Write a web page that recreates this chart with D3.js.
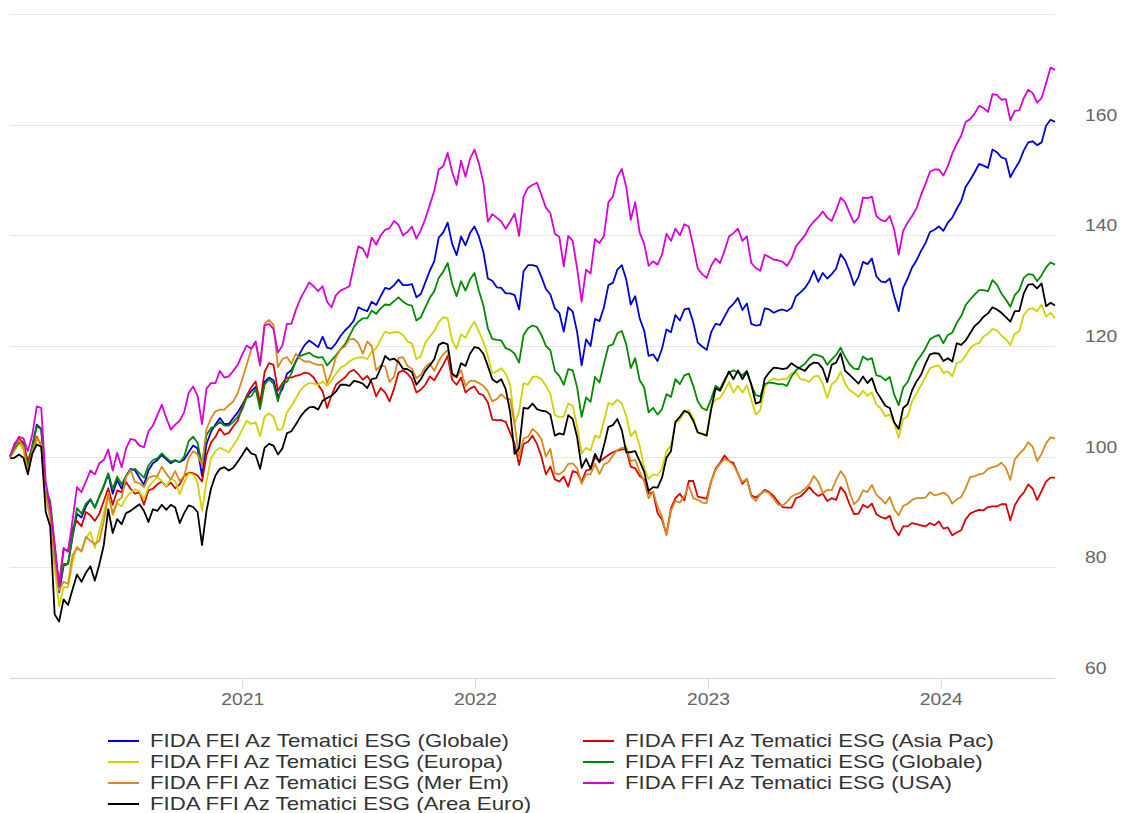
<!DOCTYPE html>
<html>
<head>
<meta charset="utf-8">
<script src="https://cdn.jsdelivr.net/npm/d3@7/dist/d3.min.js"></script>
<style>
  body { margin: 0; background: #fff; }
  svg { font-family: "Liberation Sans", Arial, sans-serif; }
</style>
</head>
<body>
<div id="chart"></div>
<script>
// weekly closes, first Friday of 2020 to end of June 2024
const firstWeek = '2020-01-03';
const weekCount = 235;

const seriesNames = [
  'FIDA FEI Az Tematici ESG (Globale)',
  'FIDA FFI Az Tematici ESG (Asia Pac)',
  'FIDA FFI Az Tematici ESG (Europa)',
  'FIDA FFI Az Tematici ESG (Globale)',
  'FIDA FFI Az Tematici ESG (Mer Em)',
  'FIDA FFI Az Tematici ESG (USA)',
  'FIDA FFI Az Tematici ESG (Area Euro)'
];
const seriesColors = ['#0000d8', '#d80000', '#d2d200', '#008a00', '#d88a1e', '#d800d8', '#000000'];

const yTicks = [60, 80, 100, 120, 140, 160];
const gridTicks = [80, 100, 120, 140, 160, 180];
const yearTicks = ['2021', '2022', '2023', '2024'];

const feiGlobale = [
  100,101.5,102.8,102.5,97.8,102,105.8,105,93.5,90.7,
  83,75.5,80.3,80.6,85.5,89.7,89,91,92.3,90.8,
  92.8,94.6,96.8,93.3,95.8,94.2,96.5,97.8,97.5,96.2,
  94.9,97.5,98.8,99.4,100.3,99.5,98.8,99.3,99,99.5,
  100.8,102,101.5,96.5,102.3,104.5,105.8,107,105.9,105.9,
  107,108,109.4,110.8,111.8,112.6,109.5,113.5,114.3,113.8,
  110.8,112.2,115,115.6,117.2,118.8,120.2,121,120.4,119.8,
  121.7,119.7,119.5,120.5,121.8,122.8,123.6,124.6,127,126.6,
  126.3,128,127.4,129,130.5,130.3,131,132,131,131,
  131.2,128.8,129.4,131.5,133.6,135.3,139.6,140.5,142.3,138.5,
  136.4,139.8,138.2,140.4,141.6,139.8,137,132.2,131.8,130.6,
  130.5,129.5,129.5,129.2,126.6,133.5,134.6,134.6,134.4,132.5,
  130.3,129.3,126.8,126,122.6,127,126.2,122.5,116.5,121.2,
  120,124.9,124.5,127,131,131.4,133.8,134.6,132,127.5,
  129,125,122.8,118.2,118.5,117.3,119.5,123,122.5,125.6,
  124.6,126.6,126.8,124.3,120.6,119.9,119.3,122.5,124,123.8,
  125.3,126.8,127.6,128.7,126.5,127.7,124,123.7,123.8,126.8,
  126.6,126,126.4,126.6,126.3,126.9,129,129.7,130.5,131.7,
  133.6,131.6,133.2,132.2,133,134,136.6,135.5,133.5,131,
  132.5,135.2,134.8,135.8,132.6,131.7,131.5,132.2,129,126.3,
  130.5,132.2,134.2,135.5,137.2,138.6,140.6,141,141.6,140.8,
  142.3,143.2,144.8,146.2,148.8,150,151.4,152.9,152.6,152.2,
  155.5,155,154.1,153.8,150.5,152,153.3,155.3,156.8,157,
  156.3,156.8,159.8,160.9,160.5
];

const ffiAsiaPac = [
  100,102.3,103.3,102.5,99.2,101.8,103.6,102,92.8,91,
  83,77,83.2,83,87.1,88.4,87.4,90,89.4,88.4,
  89.7,92,94.3,91.3,93.9,93.6,95.4,94.2,93.3,93.6,
  91.3,93.9,94.2,95,95.5,94.6,95.3,94.3,95,96.5,
  97.1,97,96.6,95.5,100.3,102.5,103.6,105.1,104,104.3,
  105.5,106.5,109,111,112.5,113.6,109.6,115.3,116.9,116.6,
  111.9,113.3,114.3,114.3,114.6,114.8,115.2,115,114.3,113,
  111.8,108.8,111.1,113,113.7,114.3,115.3,115.7,114.9,113.9,
  114.6,113.4,110.9,112.4,111.6,110,112.3,115.2,115.6,115,
  114,111.6,112.1,113,114.5,113.8,115.2,116.6,118.2,113.9,
  113,114.3,111.6,112.3,112.7,111.4,111.1,109.8,106.7,106.6,
  106.6,106.3,104.3,102.3,98.5,102.3,102.7,103.8,102.3,100,
  96.8,98.2,95.9,95.5,96.4,94.6,97.4,97.1,95.4,97.5,
  97.7,99.9,99.1,99.7,100.3,100.8,101.1,101.3,101.3,98.2,
  97.9,96.5,95.9,93.3,93.6,89.8,88.6,86,90.6,92.5,
  93.3,92.1,95.6,95.6,92.8,92.6,92.4,95.5,97.8,98.9,
  100.2,99.2,98.9,97,95.1,96,93,92.6,93.2,94,
  93.6,92.9,91.8,90.9,90.8,90.8,92.5,92.8,93.6,94.5,
  93.5,92.9,93.3,92,92.5,92.2,94.5,93.5,91.4,89.6,
  89.7,91.3,90.8,91.5,89.6,89.1,88.8,89.3,87,85.8,
  87.4,87.4,88,87.8,87.6,87.4,88,87.6,88.3,87,
  87.2,85.8,86.3,86.7,88.7,89.7,90.1,90.4,90.3,90.9,
  91,91,91.4,91.4,88.5,91.2,92.6,93.5,95,94.2,
  92.2,93.8,95.5,96.2,96.2
];

const ffiEuropa = [
  99.7,101,102.3,101.3,97.2,100.5,103,102.6,92.6,88.7,
  79.8,73,76.4,76.4,80.9,83.8,82.8,85.3,86.4,83.5,
  86.6,89.8,93.4,89.4,91.6,91,92.6,93.5,94.1,93.7,
  92.3,94.5,95.5,96.3,95.6,94.6,96,95.6,93.2,95.3,
  97,96.8,95.3,90.2,95.5,99.7,101,101.6,101.2,100.8,
  102,103.3,104.9,106.5,105.9,106.2,103.7,107.2,107.8,107.2,
  104.8,105,108,109.1,110.5,112,112.8,113.3,113.2,113,
  113.6,112.8,113.8,115,116.1,116.5,117.2,117.7,117.9,118,
  117.6,119,119.6,121.2,122.6,122.3,122.5,122.5,122,120.8,
  120.5,117.6,118.2,120.6,121.7,122.7,124.3,125.2,125,121,
  119.5,122.1,121.5,123.2,124.4,122.6,120.8,118.2,115.1,115.4,
  116,115,113,106,108.2,113.3,113,114.4,114.5,114,
  112.8,111.3,107.5,107.2,107.2,109.6,109.2,105.5,100.6,101.6,
  101.1,103.8,103.4,106.5,109.7,109.4,110.3,109.6,107.3,103.7,
  104.7,102,98,96,96.8,96.6,97.8,101,102,106,
  106.7,108,108.4,107,104.3,104.2,103.9,109.2,110.3,110.6,
  111.9,113.5,111.6,112.8,111.6,112.9,110.3,107.6,108.4,112.5,
  113.7,114.1,113.9,114,114.1,115.1,115.3,114,113.9,113.5,
  114.5,114.6,113.2,110.6,113.1,113.7,115.3,113.2,112,111.5,
  110.8,111.9,111,111.6,109.4,108.7,107.3,107.6,106,103.4,
  106.8,107.3,110,111.5,112.9,114.4,116,116.3,116.5,115.1,
  115.4,114.5,116.9,117.2,118.3,119.6,120.3,120.5,121.7,122.2,
  123.1,122.8,121.9,121.2,120.2,122.2,122.7,125.6,126.6,126.8,
  126.3,127.5,125.3,126,125
];

const ffiGlobale = [
  100,101.5,102.6,102.3,98,102,105.4,105,93.9,92,
  84.2,76.3,80.6,80.6,85.8,90.7,89.7,91.5,92.3,90.8,
  92.8,94.8,97,94.2,96.4,95,96.5,97.5,97.8,97,
  96.2,98.4,99.4,99.7,100.6,99.8,99.1,99.4,99,100,
  102.8,103.6,102.5,98.5,103.9,105.2,105.5,106.3,105.6,105.6,
  106.3,107.2,108.5,110.7,110.9,112.2,108.6,113,114,113.2,
  110,113.2,113.5,115,117.3,118.2,118.5,118.8,118.2,117.9,
  118,116.5,117.4,118.3,119.4,120.3,121.8,123.4,124.4,125,
  125,126.4,125.8,126.8,127.5,127.4,128.1,128.8,128,127.5,
  127.3,124.6,125.2,127,128.7,129.9,132.3,133.4,135,131.3,
  129,131.7,130,132,133.2,130,127.3,123.2,121.3,121.1,
  121,119.6,119.3,118.6,117,122,123.2,123.7,123.4,122,
  120,119.2,115.5,114.6,113,115.8,115.6,112.5,107.2,110.7,
  109.9,114.4,113.4,116.8,120,120.3,122.3,122.7,120.3,116,
  117.8,113.8,112.5,108,108.8,107.6,108.6,111.3,110.8,114,
  113.1,114.7,115,112.8,110,108.8,108.4,110.4,112.8,112.2,
  113.9,115.2,115.6,115.2,114.7,115.5,113,111.1,110.9,113.1,
  113.4,113.3,113.1,113.1,112.8,114.5,115.6,116.2,116.8,117.8,
  118.5,118.3,118,116.6,117.6,118.4,119.7,118,116.7,115.9,
  115.8,118.1,117.5,117.8,114.7,114.5,113.8,114.4,111.2,109.3,
  112.5,113.5,115.5,117.2,118.3,119.6,121.2,121.7,122,120.5,
  122,122.4,124.2,125.4,127.4,128.4,129.3,130.1,130.1,129.9,
  131.9,131.1,129.5,128.4,127.1,129.2,130.1,132.3,133,132.9,
  131.7,132.8,134.2,135.1,134.7
];

const ffiMerEm = [
  100,101.8,103,101.8,97.2,101,103.4,102.2,93.3,89,
  81,75.8,77.4,77,82.2,83.5,82.9,85.5,84.8,84.2,
  84.8,88.3,93.2,89.7,92,92.6,96.3,97.6,95.4,95.2,
  94.5,96.2,96.5,96.5,98.2,96.9,95.9,97.4,95.6,96.5,
  99.7,101,100.4,98.5,105,106.9,108.2,108.5,108.5,109.3,
  110,111.5,114,116.6,119.3,120.8,116.4,124,124.7,123.8,
  116.2,117.6,118,116.8,118.6,117.7,117.2,117.2,116.8,116.6,
  116.6,113.3,115.2,118,119.4,119.9,121.2,121.3,120.5,118.6,
  120.8,120,115.6,116.5,116.3,113.5,114.5,117.8,118,116.4,
  115.9,114.2,114.8,116.2,116.9,115.5,117.3,118.5,119.3,114.7,
  114.3,115.6,112.8,113.7,113.7,113.3,112.8,111.8,110,110.4,
  111.3,110.5,110.4,105.8,100,103.3,103.6,105,104.3,103.2,
  100,101.4,97,96.8,97.4,98.7,98.8,97.9,95.1,96.8,
  96.8,98.7,96.9,98.6,99,100.2,101.2,101.6,101.7,99.2,
  99.4,97.3,95.5,92.5,93.7,91,89.2,85.8,90.2,92,
  91.7,92.8,94.8,92.5,92.2,91.7,91.6,95.5,97.6,98.7,
  99.6,99.2,98.5,96.9,95.4,96,92.8,92,93.2,93.8,
  93.4,92.4,91.3,91.2,91.8,92.8,93.2,93.5,94.2,95,
  96.5,95.5,93.4,94,93.9,95.8,97.4,96.3,93.6,91.4,
  92.2,93.9,93.6,94.9,93.1,92.4,91.5,92.7,90.5,89.4,
  91.1,91.5,92.2,92.5,92.5,92.6,93.6,93,93.2,93.5,
  93,91.5,92.3,92.7,94.3,96.3,96.5,96.8,97,97.8,
  98.1,98.3,98.9,98,95.8,99.5,100.5,101.3,102.6,101.8,
  99.2,100.5,102.4,103.5,103.3
];

const ffiUsa = [
  100.1,102,103.6,103.3,101,104,109.1,108.8,95.5,91,
  84,76.5,83.5,82.8,88.5,94.5,93.6,95.5,97.5,96.8,
  98.8,99.4,101.3,97.5,100.7,98.1,101.5,103.2,103,102,
  101.7,104.6,105.6,107.5,109.4,107,104.9,105.8,106.5,108,
  111.5,112.7,111,105.9,112.3,113.3,113.3,115.5,114.3,114.5,
  115.5,116.6,118.5,120.1,119.5,120.8,116.6,123.7,124,123.1,
  118.8,120.1,124,124,126.5,128.5,130,131.5,130.8,129.9,
  130.8,128,127,129.2,130,130.4,130.8,134.5,138,137.6,
  136,139.6,138.3,140,141,141.3,142.6,141.9,140,140.6,
  141.6,139.4,140.9,143,145.5,148,151.9,152.5,154.9,151.5,
  149.1,153.5,150.6,153.8,155.5,153,149.5,142.5,143.8,143.2,
  142.5,141.2,142.5,143.9,139.9,147,148.6,149.1,149.5,147.3,
  145,144,140.3,139.7,134.4,139.9,139,134,128,133.8,
  133.1,139.3,138.6,139.9,146,147,150.5,152,148.7,142.8,
  146,140.5,138.5,134.5,135.3,134.7,136.5,140.3,139,141.2,
  140,142,141.6,138,134,133,132.3,134.5,135.8,135,
  137.2,139.8,140.4,141.2,139,139.8,135,134.1,133.6,136.5,
  136.1,135.6,135.5,135.2,134.5,135.8,138,139,140,141.5,
  142.5,143.3,144.3,143.2,142.6,144.5,146.8,146,144,142.3,
  143.2,146.8,146.7,147,143.5,142.8,142.5,143.5,141,136.5,
  140.8,142.3,143.5,144.9,147.3,149.3,151.5,151.9,151.9,150.8,
  152.5,154.8,156.5,158,160.5,161,162,163.4,163,162.3,
  165.5,165.4,164.5,164.6,160.8,162.5,162.6,164.8,166.3,165.7,
  164,164.8,167.5,170.3,169.9
];

const ffiAreaEuro = [
  99.7,99.8,100.4,99.8,96.8,100.6,102.2,101.8,90,87.4,
  71.5,70.2,74.2,73.2,76,78.7,77.4,79,80.2,77.6,
  80.5,84,90.5,86.2,88.7,87.8,89.8,90.2,90.8,91.4,
  90.2,88.2,90.5,90.2,91.3,90.4,91.3,90.8,88,89.8,
  91.2,90.9,90,84,90.2,94.2,96.6,97.8,98.1,97.5,
  98,99.1,100.3,101.6,100.6,100.3,97.8,101.6,102.3,102,
  100.4,101.5,104.2,104.6,105.8,107.2,108.2,108.9,109,108.5,
  110.1,110.6,111,111.8,113,113,112.8,113.7,113.5,113.2,
  112.4,114,114.2,116,118.2,117.5,117.7,117.1,115.9,115.8,
  115.3,113,114,115.5,116.5,117.6,120.2,120.6,120.3,115,
  114.4,116.9,116.4,118.6,119.8,119.6,118.6,116.4,114,113.4,
  114,112.2,108,100.5,101.5,108.8,108.7,109.6,108.6,108.3,
  108.2,107.6,103.8,104.2,104,107.5,106.8,103.5,98,99.6,
  97.8,100.5,99,102,105.4,105.7,106.8,104.8,100.8,100.8,
  101,99.2,97.3,93.8,94.5,94.4,96.2,99.8,101,106.3,
  107.2,108.3,107.9,106.5,104.4,104.1,103.8,108.5,112.4,111.9,
  113.6,115.4,114,115.6,114,115.4,113,109.6,109.9,114.1,
  115.2,116.1,116,115.8,116,116.9,116.3,115.9,115.5,116.5,
  117,116.9,115.9,113.5,116.6,117,118.7,115.5,114.8,114,
  113.2,114.5,113.3,114.2,111.8,110.5,109.2,108.8,106.2,105,
  108.8,109.5,112,113.6,114.8,116.8,118.5,118.7,118.6,117.3,
  117.8,117.2,120.5,120.2,121,122.3,123.6,124.3,125.3,125.9,
  127,126.6,126,125.2,124.4,126.3,126.3,129.5,131.1,131.2,
  130.4,131.3,127.2,127.8,127.3
];

const seriesValues = [feiGlobale, ffiAsiaPac, ffiEuropa, ffiGlobale, ffiMerEm, ffiUsa, ffiAreaEuro];

const width = 1137, height = 813;
const plot = { left: 10, right: 1055, top: 14, bottom: 678 };
const stretch = 'scale(1.21,1)';        // the reference text is set wide
const legendStretch = 'scale(1.235,1)';

const start = d3.timeParse('%Y-%m-%d')(firstWeek);
const dates = d3.range(weekCount).map(i => d3.timeDay.offset(start, 7 * i));

const x = d3.scaleTime()
  .domain([dates[0], dates[dates.length - 1]])
  .range([plot.left, plot.right]);
const y = d3.scaleLinear()
  .domain([60, 180])
  .range([plot.bottom, plot.top]);

const svg = d3.select('#chart').append('svg')
  .attr('width', width)
  .attr('height', height);

// horizontal grid
svg.append('g')
  .selectAll('line')
  .data(gridTicks)
  .enter()
  .append('line')
  .attr('x1', plot.left)
  .attr('x2', plot.right)
  .attr('y1', d => Math.round(y(d)) + 0.5)
  .attr('y2', d => Math.round(y(d)) + 0.5)
  .attr('stroke', '#e6e6e6')
  .attr('stroke-width', 1);

// y labels on the right
svg.append('g')
  .selectAll('text')
  .data(yTicks)
  .enter()
  .append('text')
  .attr('transform', d => `translate(1085,${y(d) - 4}) ${stretch}`)
  .attr('fill', '#666')
  .attr('font-size', '16px')
  .text(d => d);

// x axis
const yearDates = yearTicks.map(t => d3.timeParse('%Y')(t));
const xAxis = svg.append('g')
  .attr('transform', `translate(0,${plot.bottom + 0.5})`)
  .call(d3.axisBottom(x).tickValues(yearDates).tickSize(10).tickPadding(5).tickFormat(d3.timeFormat('%Y')));
xAxis.select('.domain')
  .attr('d', `M${plot.left},0H${plot.right}`)
  .attr('stroke', '#ccd6eb');
xAxis.selectAll('.tick line').attr('stroke', '#ccd6eb');
xAxis.selectAll('.tick text')
  .attr('fill', '#666')
  .attr('font-size', '16px')
  .attr('font-family', '"Liberation Sans", Arial, sans-serif')
  .attr('transform', stretch);

// lines
const line = d3.line()
  .x((d, i) => x(dates[i]))
  .y(d => y(d));

svg.append('g')
  .selectAll('path')
  .data(seriesValues)
  .enter()
  .append('path')
  .attr('d', d => line(d))
  .attr('fill', 'none')
  .attr('stroke', (d, i) => seriesColors[i])
  .attr('stroke-width', 1.8)
  .attr('stroke-linejoin', 'round');

// legend, two columns filled row by row
const legend = svg.append('g');
const items = legend.selectAll('g')
  .data(seriesNames)
  .enter()
  .append('g')
  .attr('transform', (d, i) => `translate(${i % 2 === 0 ? 108 : 583},${741 + Math.floor(i / 2) * 21})`);

items.append('line')
  .attr('x1', 0)
  .attr('x2', 31)
  .attr('y1', 0)
  .attr('y2', 0)
  .attr('stroke', (d, i) => seriesColors[i])
  .attr('stroke-width', 2);

items.append('text')
  .attr('transform', `translate(42,6) ${legendStretch}`)
  .attr('fill', '#333')
  .attr('font-size', '18px')
  .text(d => d);
</script>
</body>
</html>
